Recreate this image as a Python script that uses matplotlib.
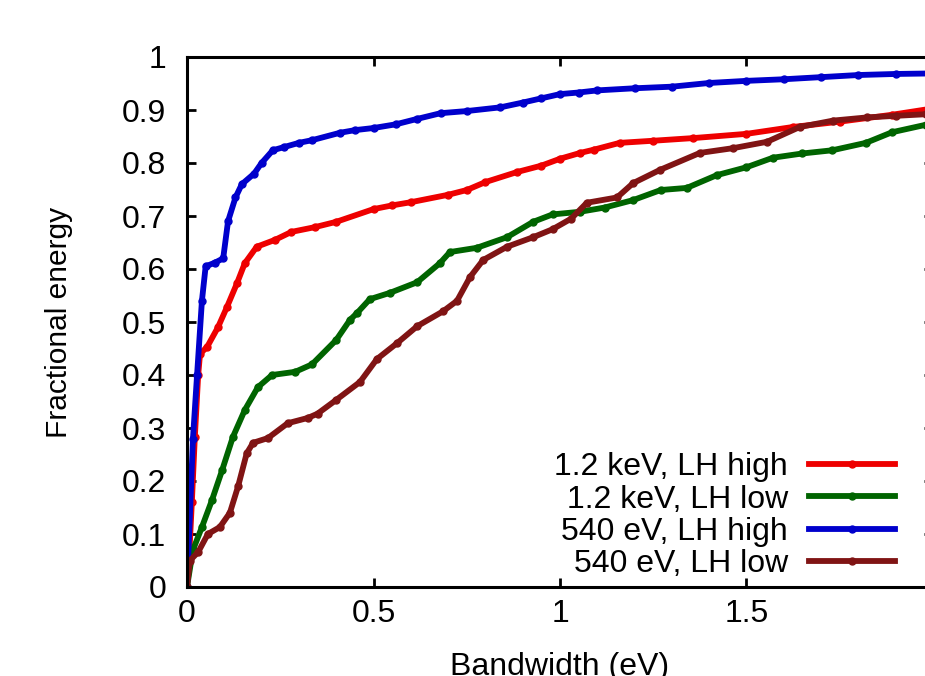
import numpy as np
import matplotlib
matplotlib.use("Agg")
import matplotlib.pyplot as plt

plt.rcParams['font.family'] = ['Liberation Sans', 'DejaVu Sans']

# ---- data (bandwidth in eV, fractional energy) ----
x_red = [0, 0.006, 0.013, 0.021, 0.03, 0.035, 0.054, 0.083, 0.107, 0.134, 0.155, 0.187,
         0.236, 0.28, 0.343, 0.4, 0.5, 0.55, 0.6, 0.7, 0.75, 0.8, 0.885, 0.95, 1.0, 1.054,
         1.09, 1.16, 1.25, 1.357, 1.5, 1.625, 1.75, 1.89, 2.0]
y_red = [0, 0.06, 0.16, 0.283, 0.40, 0.44, 0.453, 0.49, 0.528, 0.573, 0.611, 0.642,
         0.655, 0.67, 0.679, 0.689, 0.713, 0.72, 0.726, 0.74, 0.749, 0.764, 0.783, 0.795, 0.808, 0.819,
         0.825, 0.838, 0.842, 0.847, 0.855, 0.868, 0.878, 0.891, 0.903]

x_green = [0, 0.016, 0.04, 0.067, 0.094, 0.123, 0.155, 0.19, 0.228, 0.29, 0.335, 0.4,
           0.437, 0.456, 0.49, 0.544, 0.617, 0.678, 0.705, 0.777, 0.858, 0.928, 0.98,
           1.054, 1.12, 1.196, 1.27, 1.34, 1.42, 1.5, 1.571, 1.65, 1.73, 1.82, 1.89, 1.98, 2.0]
y_green = [0, 0.07, 0.113, 0.164, 0.22, 0.283, 0.334, 0.377, 0.40, 0.406, 0.42, 0.466,
           0.504, 0.517, 0.543, 0.555, 0.575, 0.611, 0.632, 0.64, 0.66, 0.689, 0.703,
           0.708, 0.716, 0.73, 0.749, 0.753, 0.777, 0.792, 0.81, 0.818, 0.824, 0.838, 0.858, 0.872, 0.874]

x_blue = [0, 0.016, 0.027, 0.04, 0.05, 0.075, 0.097, 0.11, 0.13, 0.147, 0.18, 0.20, 0.23,
          0.26, 0.30, 0.335, 0.41, 0.45, 0.5, 0.56, 0.616, 0.68, 0.75, 0.84, 0.9, 0.95,
          1.0, 1.05, 1.1, 1.2, 1.3, 1.4, 1.5, 1.6, 1.7, 1.8, 1.9, 2.0]
y_blue = [0, 0.28, 0.40, 0.54, 0.605, 0.612, 0.62, 0.69, 0.735, 0.76, 0.78, 0.80, 0.824,
          0.83, 0.838, 0.843, 0.857, 0.862, 0.866, 0.873, 0.883, 0.894, 0.898, 0.905, 0.914, 0.922,
          0.93, 0.933, 0.937, 0.941, 0.944, 0.951, 0.955, 0.958, 0.962, 0.966, 0.968, 0.969]

x_dred = [0, 0.008, 0.03, 0.056, 0.088, 0.115, 0.137, 0.16, 0.177, 0.217, 0.27, 0.324,
          0.35, 0.40, 0.464, 0.509, 0.563, 0.617, 0.686, 0.724, 0.759, 0.794, 0.858, 0.928,
          0.98, 1.03, 1.072, 1.153, 1.196, 1.268, 1.375, 1.464, 1.555, 1.643, 1.732, 1.823,
          1.9, 1.98, 2.0]
y_dred = [0, 0.05, 0.066, 0.1, 0.113, 0.14, 0.19, 0.252, 0.272, 0.281, 0.309, 0.319,
          0.327, 0.353, 0.387, 0.43, 0.46, 0.492, 0.52, 0.54, 0.585, 0.617, 0.642, 0.66,
          0.675, 0.695, 0.725, 0.735, 0.762, 0.787, 0.819, 0.828, 0.84, 0.868, 0.88, 0.886,
          0.889, 0.892, 0.893]

labels = ["1.2 keV, LH high", "1.2 keV, LH low", "540 eV, LH high", "540 eV, LH low"]
colors = ["#ee0000", "#006400", "#0000cc", "#801414"]

x_ticks = [0, 0.5, 1, 1.5, 2]
x_ticklabels = ["0", "0.5", "1", "1.5", ""]   # the "2" falls outside the picture
y_ticks = [0, 0.1, 0.2, 0.3, 0.4, 0.5, 0.6, 0.7, 0.8, 0.9, 1.0]
y_ticklabels = ["0", "0.1", "0.2", "0.3", "0.4", "0.5", "0.6", "0.7", "0.8", "0.9", "1"]

FS = 23

fig = plt.figure(figsize=(9.25, 6.76), dpi=100)
# axes run past the right edge of the picture, as in the reference
ax = fig.add_axes([187 / 925, 89 / 676, 746 / 925, 530 / 676])

series = [(x_red, y_red), (x_green, y_green), (x_blue, y_blue), (x_dred, y_dred)]
for (xs, ys), lab, col in zip(series, labels, colors):
    ax.plot(xs, ys, '-o', color=col, lw=4.2, ms=5, label=lab)

ax.set_xlim(0, 2)
ax.set_ylim(0, 1)
ax.set_xticks(x_ticks)
ax.set_xticklabels(x_ticklabels)
ax.set_yticks(y_ticks)
ax.set_yticklabels(y_ticklabels)
ax.tick_params(direction='in', top=True, right=True, length=6.5, width=2,
               labelsize=FS, colors='black')
ax.tick_params(axis='x', pad=9)
ax.tick_params(axis='y', pad=15)
for sp in ax.spines.values():
    sp.set_linewidth(2.2)

ax.set_xlabel("Bandwidth (eV)", fontsize=FS, labelpad=16)
ax.set_ylabel("Fractional energy", fontsize=21.5, labelpad=35)

leg = ax.legend(loc='lower right', bbox_to_anchor=(0.949, 0.015), frameon=False,
                markerfirst=False, numpoints=1, fontsize=FS, handlelength=2.7,
                handletextpad=0.65, labelspacing=0.07, borderaxespad=0, borderpad=0)

fig.savefig("out.png", dpi=100)
